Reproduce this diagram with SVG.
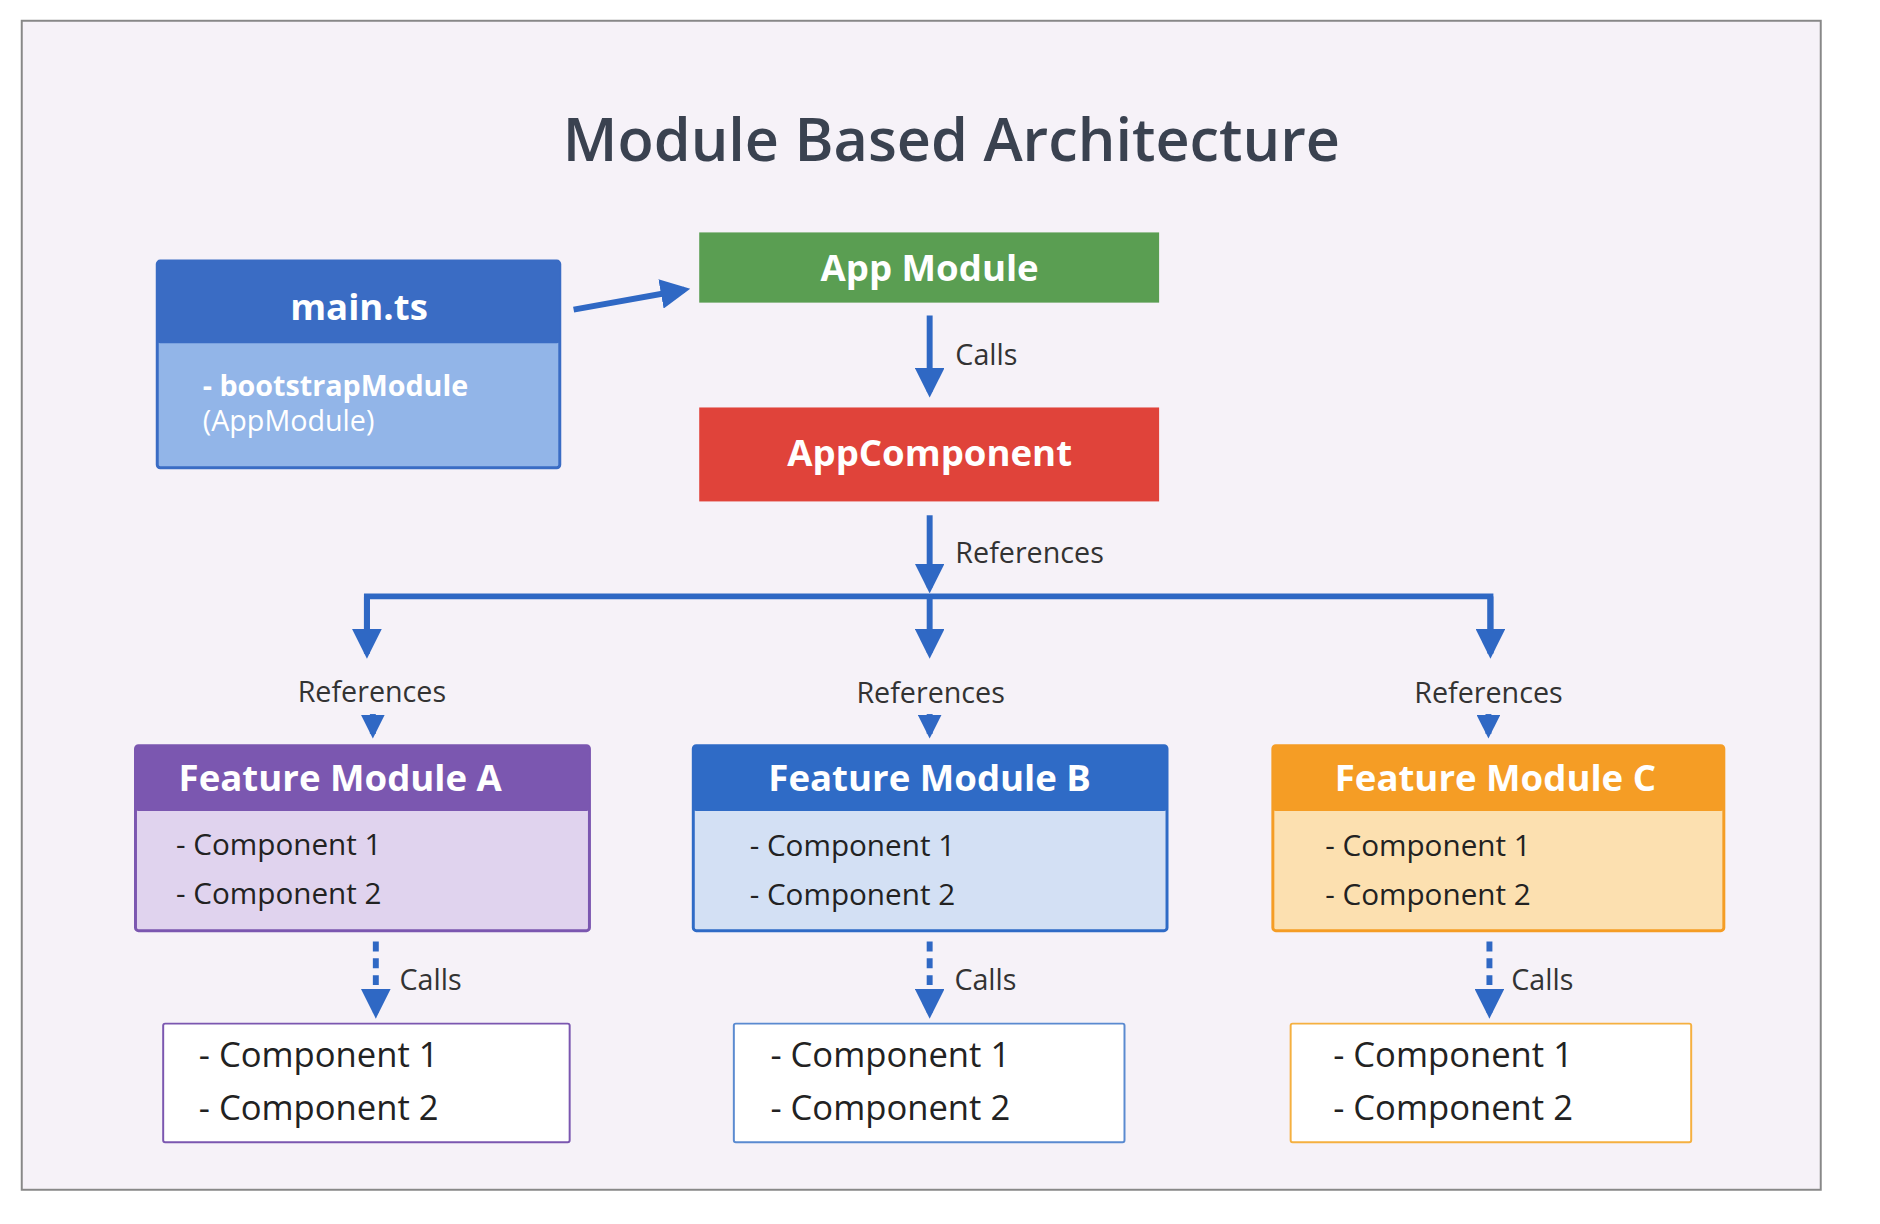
<svg xmlns="http://www.w3.org/2000/svg" width="1880" height="1224" viewBox="0 0 1880 1224">
<defs>
<style>
text{font-family:"Open Sans","Noto Sans","Liberation Sans",sans-serif}
.hd{font-size:37px;font-weight:700;fill:#fff;text-anchor:middle}
.it{font-size:30px;fill:#222}
.bt{font-size:35px;fill:#222}
.lb{font-size:29px;fill:#333}
.ln{stroke:#2f68c4;stroke-width:6;fill:none}
.dl{stroke:#2f68c4;stroke-width:6;fill:none;stroke-dasharray:10 7}
</style>
<marker id="ah" viewBox="0 0 10 10" refX="8" refY="5" markerWidth="5" markerHeight="5" orient="auto" markerUnits="strokeWidth"><path d="M0,0 L10,5 L0,10 z" fill="#2f68c4"/></marker>
<marker id="as" viewBox="0 0 10 10" refX="8" refY="5" markerWidth="4" markerHeight="4" orient="auto" markerUnits="strokeWidth"><path d="M0,0 L10,5 L0,10 z" fill="#2f68c4"/></marker>
</defs>
<rect x="0" y="0" width="1880" height="1224" fill="#fff"/>
<g transform="scale(0.989)">
<rect x="22" y="21" width="1819" height="1182" fill="#f6f2f8" stroke="#888" stroke-width="2"/>
<text x="962" y="163" font-size="60" font-weight="600" fill="#3a4250" text-anchor="middle">Module Based Architecture</text>

<g id="main">
<rect x="159" y="264" width="407" height="209" rx="3" fill="#92b5e8" stroke="#3a6cc4" stroke-width="3"/>
<rect x="159" y="264" width="407" height="83" rx="3" fill="#3a6cc4"/>
<text x="363" y="324" class="hd" font-size="42">main.ts</text>
<text x="205" y="400" font-size="29" font-weight="700" fill="#fff">- bootstrapModule</text>
<text x="205" y="436" font-size="29" fill="#fff">(AppModule)</text>
</g>
<g id="appmodule">
<rect x="707" y="235" width="465" height="71" fill="#5a9e52"/>
<text x="940" y="284" class="hd">App Module</text>
</g>
<g id="appcomponent">
<rect x="707" y="412" width="465" height="95" fill="#e0433a"/>
<text x="940" y="471" class="hd" font-size="39">AppComponent</text>
</g>

<g id="featA">
<rect x="137" y="754" width="459" height="187" rx="3" fill="#e0d3ee" stroke="#7b57b0" stroke-width="3"/>
<rect x="137" y="754" width="459" height="66" rx="3" fill="#7b57b0"/>
<text x="344" y="800" class="hd">Feature Module A</text>
<text x="178" y="865" class="it">- Component 1</text>
<text x="178" y="914" class="it">- Component 2</text>
</g>
<g id="featB">
<rect x="701" y="754" width="479" height="187" rx="3" fill="#d3e0f4" stroke="#2f6bc6" stroke-width="3"/>
<rect x="701" y="754" width="479" height="66" rx="3" fill="#2f6bc6"/>
<text x="940" y="800" class="hd">Feature Module B</text>
<text x="758" y="866" class="it">- Component 1</text>
<text x="758" y="915" class="it">- Component 2</text>
</g>
<g id="featC">
<rect x="1287" y="754" width="456" height="187" rx="3" fill="#fce0b0" stroke="#f59d25" stroke-width="3"/>
<rect x="1287" y="754" width="456" height="66" rx="3" fill="#f59d25"/>
<text x="1512" y="800" class="hd">Feature Module C</text>
<text x="1340" y="866" class="it">- Component 1</text>
<text x="1340" y="915" class="it">- Component 2</text>
</g>

<g id="compA">
<rect x="165" y="1035" width="411" height="120" rx="2" fill="#fff" stroke="#7b57b0" stroke-width="2"/>
<text x="201" y="1079" class="bt">- Component 1</text>
<text x="201" y="1132" class="bt">- Component 2</text>
</g>
<g id="compB">
<rect x="742" y="1035" width="395" height="120" rx="2" fill="#fff" stroke="#5a8ad0" stroke-width="2"/>
<text x="779" y="1079" class="bt">- Component 1</text>
<text x="779" y="1132" class="bt">- Component 2</text>
</g>
<g id="compC">
<rect x="1305" y="1035" width="405" height="120" rx="2" fill="#fff" stroke="#f5b040" stroke-width="2"/>
<text x="1348" y="1079" class="bt">- Component 1</text>
<text x="1348" y="1132" class="bt">- Component 2</text>
</g>

<g id="connectors">
<line x1="580" y1="313" x2="692" y2="293" class="ln" marker-end="url(#ah)"/>
<line x1="940" y1="319" x2="940" y2="396" class="ln" marker-end="url(#ah)"/>
<text x="966" y="369" class="lb">Calls</text>
<line x1="940" y1="521" x2="940" y2="594" class="ln" marker-end="url(#ah)"/>
<text x="966" y="569" class="lb">References</text>
<polyline points="371,661 371,603 1507,603 1507,661" class="ln"/>
<line x1="371" y1="603" x2="371" y2="660" class="ln" marker-end="url(#ah)"/>
<line x1="940" y1="603" x2="940" y2="660" class="ln" marker-end="url(#ah)"/>
<line x1="1507" y1="603" x2="1507" y2="660" class="ln" marker-end="url(#ah)"/>
<text x="376" y="710" class="lb" text-anchor="middle">References</text>
<text x="941" y="711" class="lb" text-anchor="middle">References</text>
<text x="1505" y="711" class="lb" text-anchor="middle">References</text>
<line x1="377" y1="722" x2="377" y2="742" class="ln" stroke-width="4" marker-end="url(#as)"/>
<line x1="940" y1="722" x2="940" y2="742" class="ln" stroke-width="4" marker-end="url(#as)"/>
<line x1="1505" y1="722" x2="1505" y2="742" class="ln" stroke-width="4" marker-end="url(#as)"/>
<line x1="380" y1="952" x2="380" y2="1024" class="dl" marker-end="url(#ah)"/>
<line x1="940" y1="952" x2="940" y2="1024" class="dl" marker-end="url(#ah)"/>
<line x1="1506" y1="952" x2="1506" y2="1024" class="dl" marker-end="url(#ah)"/>
<text x="404" y="1001" class="lb">Calls</text>
<text x="965" y="1001" class="lb">Calls</text>
<text x="1528" y="1001" class="lb">Calls</text>
</g>
</g>
</svg>
